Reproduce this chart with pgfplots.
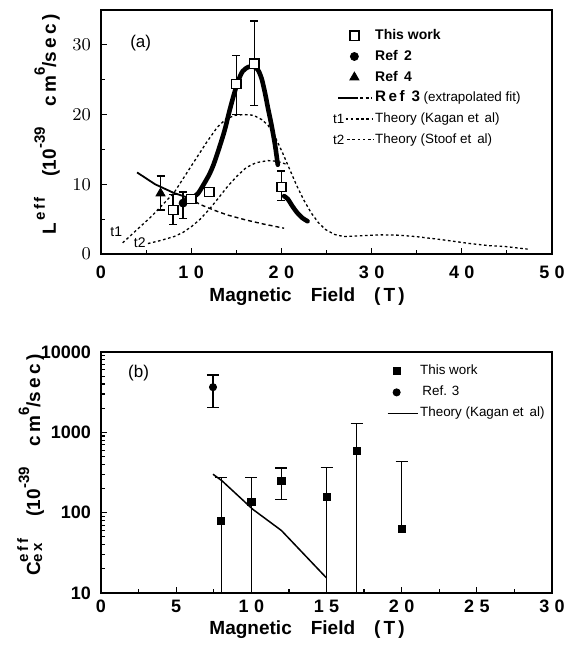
\documentclass[border=0pt]{standalone}
\usepackage{fontspec}
\setmainfont{Liberation Sans}
\usepackage{pgfplots}
\pgfplotsset{compat=1.18}

\newcommand{\sk}{\hspace{0.3em}}
\newcommand{\lgfont}{\fontsize{6.7}{7}\selectfont}
\tikzset{theory/.style={line width=0.65pt, dash pattern=on 1.3pt off 1.3pt}}

\begin{document}
\begin{tikzpicture}
\useasboundingbox (-50.5pt,-196pt) rectangle (233pt,127pt);
\pgfplotsset{
  every axis/.append style={
    scale only axis, width=225.5pt,
    axis line style={line width=0.75pt},
    every tick/.style={line width=0.6pt, black},
    major tick length=3pt, minor tick length=1.8pt,
    tick label style={font=\fontsize{9}{10}\selectfont\bfseries},
    label style={font=\fontsize{9.5}{10}\selectfont\bfseries},
    xtick pos=bottom, ytick pos=left,
    legend cell align=left,
  },
  ebar/.style={error bars/.cd, y dir=#1, y explicit,
    error bar style={line width=0.7pt},
    error mark options={rotate=90, mark size=2pt, line width=0.7pt}},
  ebarb/.style={error bars/.cd, y dir=#1, y explicit,
    error bar style={line width=0.7pt},
    error mark options={rotate=90, mark size=3pt, line width=0.7pt}},
}

% ---------------- panel (a)
\begin{axis}[at={(0,0)}, anchor=south west, height=122pt,
  xmin=0, xmax=50, ymin=0, ymax=35,
  xtick={0,10,...,50}, xticklabels={0,1\sk0,2\sk0,3\sk0,4\sk0,5\sk0},
  minor xtick={5,15,...,45},
  ytick={0,10,20,30}, minor ytick={5,15,25},
  xticklabel style={yshift=-2.5pt},
  yticklabel style={xshift=-1.5pt},
  xlabel={Magnetic\quad Field\quad (\,T\,)},
  xlabel style={at={(axis description cs:0.457,-0.176)}, anchor=center},
  ylabel={L\raisebox{1.1ex}{\fontsize{7.5}{8}\selectfont\,e\,f\,f}\hspace{1.1em}(10\raisebox{1.1ex}{\fontsize{7.5}{8}\selectfont -39}\hspace{1.1em}c\,m\raisebox{1.1ex}{\fontsize{7.5}{8}\selectfont 6}/s\,e\,c\,)},
  ylabel style={at={(axis description cs:-0.12,0.53)}, anchor=center},
  legend style={at={(axis description cs:0.514,0.93)}, anchor=north west,
    draw=none, fill=none, inner sep=0pt, row sep=2.2pt, font=\lgfont,
    nodes={inner sep=0.6pt, text height=5.4pt, text depth=1.6pt}},
]
% theory curves
\addplot[theory, forget plot] coordinates {
 (2.4,1.6) (4.0,3.5) (5.6,5.4) (7.0,7.3) (8.1,8.8) (9.3,11.2) (10.5,13.6)
 (11.7,16.0) (12.9,18.2) (13.9,19.4) (14.9,19.9) (15.9,20.0) (16.9,19.9)
 (17.8,19.3) (18.5,18.5) (19.3,16.8) (20.1,14.6) (20.9,12.2) (21.7,9.8)
 (22.5,7.7) (23.3,5.9) (24.1,4.5) (24.9,3.5) (25.9,2.8) (26.9,2.5) (28.5,2.6)
 (30.9,2.75) (33.0,2.7) (34.9,2.5) (37.5,2.1) (40.9,1.5) (43.0,1.2) (44.9,1.06)
 (47.3,0.7)};
\addplot[theory, forget plot] coordinates {
 (5.2,1.5) (6.5,1.9) (8.1,2.5) (9.1,3.1) (10.1,4.0) (11.0,5.0) (12.0,6.4)
 (13.0,8.0) (14.1,9.8) (15.1,11.2) (16.1,12.4) (17.2,13.1) (18.5,13.4)
 (19.5,13.3) (20.5,12.9)};
% Ref 3 fit: solid then extrapolated
\addplot[line width=0.9pt, forget plot] coordinates {
 (4.0,11.7) (6.0,10.0) (8.0,8.8) (9.8,8.0)};
\addplot[line width=0.7pt, dash pattern=on 2pt off 1.5pt, forget plot] coordinates {
 (9.8,8.0) (11.0,7.1) (12.5,6.3) (14.0,5.6) (16.0,4.9) (18.0,4.3) (20.3,3.7)};
% thick guide curve
\addplot[line width=2.3pt, line cap=round, smooth, forget plot] coordinates {
 (9.3,7.6) (10.0,8.0) (10.7,8.6) (11.3,9.8) (12.0,11.4) (12.5,12.9) (13.1,15.2)
 (13.7,17.7) (14.2,20.3) (14.7,22.7) (15.2,24.8) (15.7,26.2) (16.3,26.8)
 (16.9,26.9) (17.4,26.4) (17.8,25.2) (18.2,23.0) (18.5,21.0) (18.9,18.5)
 (19.3,15.6) (19.6,12.8)};
\addplot[line width=2.3pt, line cap=round, smooth, forget plot] coordinates {
 (20.3,8.3) (20.7,7.9) (21.2,6.9) (21.7,6.0) (22.3,5.2) (22.9,4.7)};
% Ref 4
\addplot[only marks, mark=triangle*, mark size=2.6pt, forget plot, ebar=both] coordinates {
 (6.6,8.7) += (0,2.5) -= (0,2.4)};
\addplot[only marks, mark=triangle*, mark size=2.6pt, forget plot] coordinates {(9.5,7.7)};
% Ref 2
\addplot[only marks, mark=*, mark size=2pt, forget plot, ebar=both] coordinates {
 (9.1,7.3) += (0,1.6) -= (0,2.2)};
% This work
\addplot[only marks, mark=square*, mark size=2.3pt,
  mark options={fill=white, draw=black, line width=0.75pt}, forget plot, ebar=both] coordinates {
 (8.0,6.3) += (0,2.2) -= (0,2.1)
 (15.0,24.4) += (0,4.1) -= (0,4.4)
 (17.0,27.3) += (0,6.1) -= (0,6.0)
 (20.0,9.6) += (0,2.3) -= (0,1.9)};
\addplot[only marks, mark=square*, mark size=2.3pt,
  mark options={fill=white, draw=black, line width=0.75pt}, forget plot] coordinates {
 (10.0,7.9) (12.0,8.9)};

\node[font=\fontsize{8.5}{9}\selectfont, anchor=center] at (axis cs:4.4,30.3) {(a)};
\node[font=\fontsize{7}{8}\selectfont, anchor=center] at (axis cs:1.7,3.2) {t1};
\node[font=\fontsize{7}{8}\selectfont, anchor=center] at (axis cs:4.3,1.6) {t2};

\addlegendimage{legend image code/.code={\draw[mark=square*, mark size=2.3pt, mark options={fill=white, draw=black, line width=0.75pt}] plot[only marks] coordinates {(7pt,0pt)};}}
\addlegendentry{\fontsize{7}{8}\selectfont\bfseries This work}
\addlegendimage{legend image code/.code={\draw[mark=*, mark size=2pt, fill=black] plot[only marks] coordinates {(7pt,0pt)};}}
\addlegendentry{\fontsize{7}{8}\selectfont\bfseries Ref\, 2}
\addlegendimage{legend image code/.code={\draw[mark=triangle*, mark size=2.6pt, fill=black] plot[only marks] coordinates {(7pt,0pt)};}}
\addlegendentry{\fontsize{7}{8}\selectfont\bfseries Ref\, 4}
\addlegendimage{legend image code/.code={\draw[line width=0.9pt] (-1pt,0pt) -- (7pt,0pt); \draw[line width=0.7pt, dash pattern=on 1.6pt off 1.2pt] (7pt,0pt) -- (16pt,0pt);}}
\addlegendentry{{\fontsize{7.6}{8}\selectfont\bfseries R\,e\,f\, 3} (extrapolated fit)}
\addlegendimage{legend image code/.code={\node[anchor=east, inner sep=0pt, font=\lgfont, text height=, text depth=] at (2.2pt,0pt) {t1}; \draw[theory] (2.6pt,0pt) -- (16.5pt,0pt);}}
\addlegendentry{Theory (Kagan et\, al)}
\addlegendimage{legend image code/.code={\node[anchor=east, inner sep=0pt, font=\lgfont, text height=, text depth=] at (2.2pt,0pt) {t2}; \draw[theory] (3.4pt,0pt) -- (16.5pt,0pt);}}
\addlegendentry{Theory (Stoof et\, al)}
\end{axis}

% ---------------- panel (b)
\begin{axis}[at={(0,-49pt)}, anchor=north west, height=120.5pt,
  ymode=log, xmin=0, xmax=30, ymin=10, ymax=10000,
  xtick={0,5,...,30}, xticklabels={0,5,1\sk0,1\sk5,2\sk0,2\sk5,3\sk0},
  minor xtick={2.5,7.5,...,27.5},
  ytick={10,100,1000,10000}, yticklabels={10,100,1000,10000},
  minor ytick={20,30,40,50,60,70,80,90,200,300,400,500,600,700,800,900,2000,3000,4000,5000,6000,7000,8000,9000},
  yticklabel style={xshift=-1.5pt},
  xlabel={Magnetic\quad Field\quad (\,T\,)},
  xlabel style={at={(axis description cs:0.457,-0.154)}, anchor=center},
  ylabel={C\rlap{\raisebox{1.2ex}{\fontsize{7.5}{8}\selectfont e\,f\,f}}\raisebox{-0.2ex}{\fontsize{7.5}{8}\selectfont e\,x}\hspace{1.4em}(10\raisebox{1.1ex}{\fontsize{7.5}{8}\selectfont -39}\hspace{1.1em}c\,m\raisebox{1.1ex}{\fontsize{7.5}{8}\selectfont 6}/s\,e\,c\,)},
  ylabel style={at={(axis description cs:-0.156,0.53)}, anchor=center},
  legend style={at={(axis description cs:0.633,0.953)}, anchor=north west,
    draw=none, fill=none, inner sep=0pt, row sep=3pt, font=\lgfont,
    nodes={inner sep=0.6pt}},
]
\addplot[line width=0.75pt, forget plot] coordinates {
 (7.45,301) (8.05,249) (10.1,110) (12.0,60) (15.0,15.4)};
\addplot[only marks, mark=square*, mark size=1.8pt, forget plot, ebarb=both] coordinates {
 (8.0,79) += (0,195) -= (0,78)
 (10.0,137) += (0,137) -= (0,136)
 (12.0,250) += (0,108) -= (0,105)
 (15.0,157) += (0,208) -= (0,156)
 (17.0,590) += (0,706) -= (0,589)};
\addplot[only marks, mark=square*, mark size=1.8pt, forget plot, ebarb=plus] coordinates {
 (20.0,63) += (0,367)};
\addplot[only marks, mark=*, mark size=1.8pt, forget plot, ebarb=both] coordinates {
 (7.45,3650) += (0,1550) -= (0,1600)};

\node[font=\fontsize{8.5}{9}\selectfont, anchor=center] at (axis cs:2.5,5500) {(b)};

\addlegendimage{legend image code/.code={\draw[mark=square*, mark size=1.8pt, fill=black] plot[only marks] coordinates {(4.5pt,0pt)};}}
\addlegendentry{This work}
\addlegendimage{legend image code/.code={\draw[mark=*, mark size=1.8pt, fill=black] plot[only marks] coordinates {(4.5pt,0pt)};}}
\addlegendentry{\,Ref. 3}
\addlegendimage{legend image code/.code={\draw[line width=0.75pt] (0pt,0pt) -- (15.3pt,0pt);}}
\addlegendentry{Theory (Kagan et\, al)}
\end{axis}
\end{tikzpicture}
\end{document}
